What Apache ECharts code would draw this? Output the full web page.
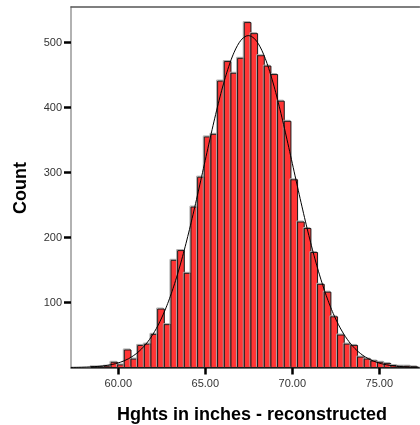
<!DOCTYPE html>
<html>
<head>
<meta charset="utf-8">
<script src="https://cdn.jsdelivr.net/npm/echarts@6/dist/echarts.min.js"></script>
<style>
  html, body { margin: 0; padding: 0; background: #fff; }
  #chart { width: 420px; height: 425px; }
</style>
</head>
<body>
<div id="chart"></div>
<script>
// Histogram of reconstructed heights (inches), equal-width bins
const binStart = 58.43;
const binWidth = 0.383;
const counts = [
  1, 1, 2, 8, 4, 27, 13, 34, 36, 51,
  90, 66, 165, 180, 145, 247, 293, 355, 359, 441,
  471, 453, 476, 531, 514, 480, 464, 451, 410, 379,
  289, 224, 214, 177, 128, 116, 78, 50, 36, 34,
  16, 13, 10, 8, 6, 3, 2, 2, 1
];
const xTicks = [60, 65, 70, 75];
const yTicks = [100, 200, 300, 400, 500];
const xRange = [57.28, 77.31];
const yRange = [0, 555];
const xTitle = 'Hghts in inches - reconstructed';
const yTitle = 'Count';

// Bars as [lower edge, upper edge, count]
const bars = counts.map((c, i) => [binStart + i * binWidth, binStart + (i + 1) * binWidth, c]);

// Fitted normal curve from the binned mean and standard deviation
const total = counts.reduce((a, b) => a + b, 0);
const mean = bars.reduce((s, b) => s + b[2] * (b[0] + b[1]) / 2, 0) / total;
const variance = bars.reduce((s, b) => s + b[2] * Math.pow((b[0] + b[1]) / 2 - mean, 2), 0) / (total - 1);
const sd = Math.sqrt(variance);
const curve = [];
for (let k = 0; k <= 400; k++) {
  const x = xRange[0] + (xRange[1] - xRange[0]) * k / 400;
  const y = total * binWidth / (sd * Math.sqrt(2 * Math.PI)) * Math.exp(-0.5 * Math.pow((x - mean) / sd, 2));
  curve.push([x, y]);
}

const chart = echarts.init(document.getElementById('chart'), null, { renderer: 'canvas' });
const labelFont = { fontFamily: 'Liberation Sans, Arial, sans-serif', fontSize: 11, color: '#333' };

chart.setOption({
  animation: false,
  backgroundColor: '#fff',
  grid: { left: 71, right: 0.5, top: 7, bottom: 57.5 },
  xAxis: [{
    type: 'value',
    position: 'bottom',
    min: xRange[0], max: xRange[1],
    axisLine: { show: true, onZero: false, lineStyle: { color: '#444', width: 1.5 } },
    axisTick: { show: true, customValues: xTicks, length: 7, inside: false, lineStyle: { color: '#000', width: 2.5 } },
    axisLabel: { customValues: xTicks, margin: 11, formatter: v => v.toFixed(2), ...labelFont },
    splitLine: { show: false }
  }, {
    type: 'value', position: 'top',
    min: xRange[0], max: xRange[1],
    axisLine: { show: true, onZero: false, lineStyle: { color: '#555', width: 1.5 } },
    axisTick: { show: false }, axisLabel: { show: false }, splitLine: { show: false }
  }],
  yAxis: {
    type: 'value',
    min: yRange[0], max: yRange[1],
    axisLine: { show: true, onZero: false, lineStyle: { color: '#999', width: 1.5 } },
    axisTick: { show: true, customValues: yTicks, length: 7, inside: false, lineStyle: { color: '#000', width: 2.5 } },
    axisLabel: { customValues: yTicks, margin: 9, ...labelFont },
    splitLine: { show: false }
  },
  series: [{
    type: 'custom',
    xAxisIndex: 0,
    data: bars,
    encode: { x: [0, 1], y: 2 },
    renderItem: function (params, api) {
      const p0 = api.coord([api.value(0), api.value(2)]);
      const p1 = api.coord([api.value(1), 0]);
      const w = p1[0] - p0[0];
      const h = p1[1] - p0[1];
      return {
        type: 'group',
        children: [{
          type: 'rect',
          shape: { x: p0[0] - 1, y: p0[1] - 1, width: w, height: h },
          style: { fill: 'rgba(0,0,0,0)', stroke: '#aaa', lineWidth: 1 }
        }, {
          type: 'rect',
          shape: { x: p0[0], y: p0[1], width: w, height: h },
          style: { fill: '#FF3535', stroke: '#1a1a1a', lineWidth: 1 }
        }]
      };
    },
    z: 2
  }, {
    type: 'line',
    xAxisIndex: 0,
    data: curve,
    showSymbol: false,
    smooth: false,
    lineStyle: { color: '#000', width: 1 },
    z: 3
  }, {
    // empty series keeps the top frame axis active
    type: 'line',
    xAxisIndex: 1,
    data: [],
    showSymbol: false
  }],
  graphic: [{
    type: 'text',
    x: 252, y: 415,
    style: {
      text: xTitle, textAlign: 'center', textVerticalAlign: 'middle',
      font: 'bold 18px "Liberation Sans", Arial, sans-serif', fill: '#000'
    }
  }, {
    type: 'text',
    x: 21, y: 188, rotation: Math.PI / 2,
    style: {
      text: yTitle, textAlign: 'center', textVerticalAlign: 'middle',
      font: 'bold 18px "Liberation Sans", Arial, sans-serif', fill: '#000'
    }
  }]
});
</script>
</body>
</html>
